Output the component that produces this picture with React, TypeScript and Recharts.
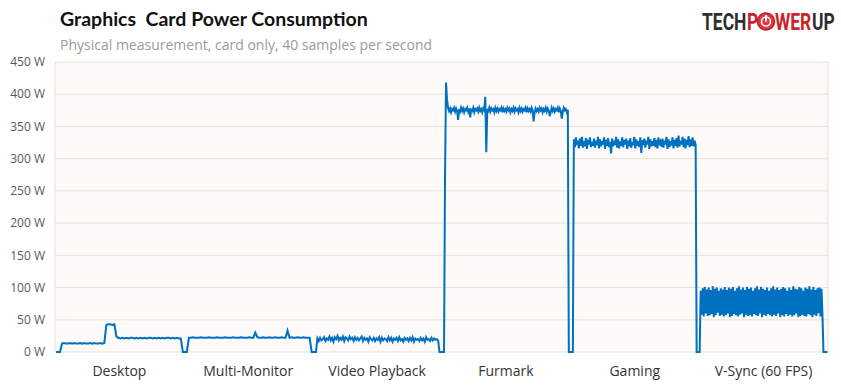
import { LineChart, Line, XAxis, YAxis, CartesianGrid, ReferenceLine } from "recharts";

const categories = ["Desktop", "Multi-Monitor", "Video Playback", "Furmark", "Gaming", "V-Sync (60 FPS)"];
const yTicks = [0, 50, 100, 150, 200, 250, 300, 350, 400, 450];
const categoryTicks = [0.5, 1.5, 2.5, 3.5, 4.5, 5.5];

// watts, evenly spaced within each test
const desktop = [
  0, 0, 0,
  13, 14, 13, 13, 14, 13, 14, 13, 13, 14, 13, 14, 13, 13, 14, 13, 14, 13, 13, 14, 13, 14,
  42, 43, 43, 42, 43,
  24,
  22, 21, 22, 21, 22, 21, 22, 22, 21, 22, 21, 22, 21, 22, 21, 22, 22, 21, 22, 21, 22, 21, 22, 21, 22, 22, 21, 22, 21, 22, 21, 21,
  0,
];

const multiMonitor = [
  0, 0,
  22, 22, 23, 22, 22, 22, 23, 22, 22, 22, 23, 22, 22, 22, 23, 22, 22, 22, 23, 22, 22, 22, 23, 22, 22, 22, 23, 22, 22, 22, 23, 22, 22,
  30,
  23, 22, 22, 23, 22, 22, 23, 22, 22, 23, 22, 22, 23, 22, 22,
  33,
  22, 23, 22, 22, 23, 22, 22, 23, 22, 22,
  22,
  0,
];

const videoPlayback = [
  0, 0, 0,
  21, 17, 22, 18, 20, 23, 17, 21, 19, 24,
  18, 22, 16, 23, 20, 25, 18, 22, 19, 24,
  17, 23, 21, 18, 24, 20, 22, 17, 23, 19,
  22, 18, 21, 24, 17, 22, 19, 21, 16, 23,
  20, 18, 22, 17, 21, 19, 23, 16, 22, 18,
  21, 20, 17, 23, 18, 22, 16, 21, 19, 22,
  17, 23, 18, 20, 16, 22, 19, 21, 17, 22,
  18, 23, 16, 21, 19, 20, 17, 22, 18, 21,
  16, 23, 19, 20, 17, 22, 18, 21, 19, 20,
  18,
  0, 0,
];

const furmark = [
  0, 0, 0,
  270, 418, 392,
  379, 374, 378, 372, 377, 375, 379, 373, 378, 374,
  360, 377, 373, 379, 374, 378, 372, 377, 375, 379,
  373, 378, 364, 376, 374, 379, 372, 377, 375, 378,
  373, 379, 374, 377, 372, 378, 375, 396, 310, 377,
  374, 379, 373, 378, 375, 377, 372, 379, 374, 378,
  373, 377, 375, 379, 372, 378, 374, 377, 373, 379,
  375, 378, 372, 377, 374, 379, 373, 378, 375, 377,
  372, 379, 374, 378, 373, 377, 375, 379, 372, 378,
  374, 377, 373, 379, 375, 358, 372, 378, 374, 377,
  373, 379, 375, 378, 372, 377, 374, 379, 373, 378,
  375, 366, 372, 379, 374, 378, 373, 377, 375, 379,
  372, 378, 374, 362, 373, 379, 375, 377, 372, 376,
  0, 0,
];

const gaming = [
  0, 0, 0,
  330, 318, 333, 321, 328, 316, 331, 320, 334, 317,
  327, 319, 332, 315, 329, 322, 333, 318, 326, 320,
  331, 317, 328, 321, 334, 316, 330, 319, 327, 322,
  333, 315, 329, 320, 332, 318, 326, 308, 331, 319,
  328, 321, 334, 317, 330, 316, 327, 320, 333, 318,
  329, 322, 331, 315, 328, 319, 332, 317, 326, 321,
  334, 316, 330, 320, 327, 318, 333, 309, 329, 321,
  331, 317, 328, 322, 334, 315, 330, 319, 327, 320,
  332, 318, 329, 316, 333, 321, 326, 319, 331, 317,
  328, 322, 334, 315, 330, 318, 327, 321, 333, 316,
  329, 320, 332, 317, 336, 319, 328, 322, 334, 318,
  331, 316, 329, 321, 335, 318, 330, 320, 333, 319,
  328, 321,
  0, 0, 0,
];

const vsync = [
  0,
  95, 58, 99, 55, 101, 60, 97, 56, 100, 57,
  96, 59, 102, 54, 98, 57, 100, 61, 95, 56,
  99, 58, 97, 55, 101, 57, 96, 60, 100, 54,
  98, 56, 101, 59, 95, 57, 99, 55, 102, 58,
  97, 60, 100, 54, 96, 58, 101, 56, 98, 57,
  100, 55, 95, 59, 99, 57, 102, 56, 97, 60,
  101, 54, 98, 58, 96, 56, 100, 59, 95, 57,
  99, 55, 102, 58, 97, 56, 100, 60, 96, 54,
  98, 57, 101, 55, 99, 59, 95, 56, 100, 58,
  96, 55, 102, 57, 98, 60, 97, 54, 101, 56,
  99, 58, 95, 56, 100, 55, 98, 59, 102, 57,
  97, 54, 101, 58, 96, 56, 99, 60, 100, 55,
  98, 57,
  0, 0, 0, 0, 0,
];

const segments = [desktop, multiMonitor, videoPlayback, furmark, gaming, vsync];

const data = segments.flatMap((vals, k) =>
  vals.map((w, i) => ({ t: k + (i + 0.5) / vals.length, w }))
);

const grid = "#e9e1d5";
const red = "#cc2229";
const dark = "#2e2e2e";

// logo letters are drawn narrow, like the condensed original
function Logo() {
  const sx = 0.76;
  const font = { fontFamily: "Roboto", fontWeight: 700, fontSize: 23 };
  return (
    <svg width={144} height={40} style={{ position: "absolute", left: 695, top: 0 }}>
      <g transform={`scale(${sx},1)`}>
        <text x={7 / sx} y={30} {...font} fill={dark}>TECH</text>
        <text x={52 / sx} y={30} {...font} fill={red}>P</text>
        <text x={80 / sx} y={30} {...font} fill={red}>WER</text>
        <text x={117 / sx} y={30} {...font} fill={dark}>UP</text>
      </g>
      <circle cx={71} cy={21.5} r={8.5} fill="#e5393f" stroke="#b71f25" strokeWidth={1.5} />
      <circle cx={71} cy={21.5} r={4.5} fill="none" stroke="#fff" strokeWidth={1.5} />
      <line x1={71} y1={15} x2={71} y2={21.5} stroke="#fff" strokeWidth={2} />
    </svg>
  );
}

export default function App() {
  return (
    <div style={{ position: "relative", width: 841, height: 387, background: "#fff", fontFamily: "'Open Sans', sans-serif" }}>
      <style>{`body{margin:0}`}</style>
      <div style={{ position: "absolute", left: 60, top: 7, fontSize: 19.5, fontFamily: "Lato, sans-serif", fontWeight: 700, color: "#111", whiteSpace: "pre" }}>
        Graphics  Card Power Consumption
      </div>
      <div style={{ position: "absolute", left: 60, top: 35, fontSize: 14, color: "#9b9b9b" }}>
        Physical measurement, card only, 40 samples per second
      </div>
      <Logo />
      <LineChart width={841} height={387} data={data} margin={{ top: 62, right: 13, bottom: 0, left: 0 }}>
        <CartesianGrid vertical={false} stroke={grid} fill="#fcfbf9" />
        <XAxis
          type="number"
          dataKey="t"
          domain={[0, 6]}
          ticks={categoryTicks}
          tickFormatter={(v: number) => categories[Math.floor(v)]}
          axisLine={false}
          tickLine={false}
          tickMargin={8}
          height={35}
          interval={0}
          tick={{ fontSize: 14, fill: "#333", fontFamily: "'Open Sans', sans-serif" }}
        />
        <YAxis
          domain={[0, 450]}
          ticks={yTicks}
          tickFormatter={(v: number) => `${v} W`}
          axisLine={false}
          tickLine={false}
          width={55}
          tickMargin={4}
          interval={0}
          tick={{ fontSize: 12, fill: "#595959", fontFamily: "'Open Sans', sans-serif" }}
        />
        <ReferenceLine x={0} stroke={grid} />
        <ReferenceLine x={6} stroke={grid} />
        <Line
          type="linear"
          dataKey="w"
          stroke="#0070c0"
          strokeWidth={2}
          dot={false}
          isAnimationActive={false}
        />
      </LineChart>
    </div>
  );
}
